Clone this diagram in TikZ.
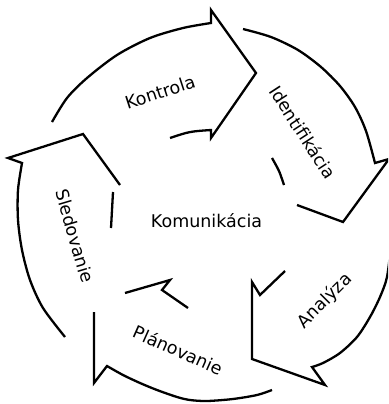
\documentclass[tikz,border=0pt]{standalone}
\usepackage{fontspec}
\setmainfont{DejaVu Sans}
\begin{document}
\begin{tikzpicture}[x=1pt,y=-1pt,
  band/.style={line width=2.3pt, line join=miter, line cap=butt},
  lbl/.style={font=\fontsize{17.5}{20}\selectfont, inner sep=0pt}]
\useasboundingbox (0,0) rectangle (388,404);
\clip (0,0) rectangle (388,404);
\fill[white] (0,0) rectangle (388,404);
% Kontrola
\draw[band] plot[smooth] coordinates {(52,122) (67,98) (87,78) (117,55) (150,38) (183,28) (211,23)}
  -- (211,10) -- (256,73) -- (211,138) -- (211,130) .. controls (189.5,131.5) .. (170,138);
% Identifikacia
\draw[band] plot[smooth] coordinates {(243,29) (271,37) (298,50) (321,67) (340,86) (355,107) (366,131) (375,163)}
  -- (389,159) -- (343,222) -- (297,205);
\draw[band] plot[smooth] coordinates {(272,158) (279,171) (284,185)};
% Analyza
\draw[band] plot[smooth] coordinates {(391,245) (387,277) (380,297) (370,317) (357,337) (340,353) (323,363) (312,367)}
  -- (325,385) -- (252,359) -- (252,282) -- (260,295) -- (285,271);
% Planovanie
\draw[band] plot[smooth] coordinates {(272,390) (257,395) (233,399) (207,401) (190,400) (177,397) (157,390) (140,383) (123,375) (107,366)}
  -- (94,383) -- (94,312);
\draw[band] (125,293) -- (170,280) -- (162,290) -- (188,308);
% Sledovanie
\draw[band] plot[smooth] coordinates {(65,337) (43,308) (30,280) (22,250) (18,220) (18,190) (22,163)}
  -- (8,158) -- (83,134) -- (120,185);
\draw[band] (113,192) -- (112,210) -- (111,228);
% labels
\node[lbl, rotate=18] (kon) at (160,92) {Kontrola};
\node[lbl, rotate=-57] (ide) at (303,132) {Identifikácia};
\node[lbl, rotate=45] (ana) at (325,301) {Analýza};
\node[lbl, rotate=-24] (pla) at (178,350) {Plánovanie};
\node[lbl, rotate=-73.5] (sle) at (75,236) {Sledovanie};
\node[lbl, anchor=base] (kom) at (206.5,227.5) {Komunikácia};
\end{tikzpicture}
\end{document}
